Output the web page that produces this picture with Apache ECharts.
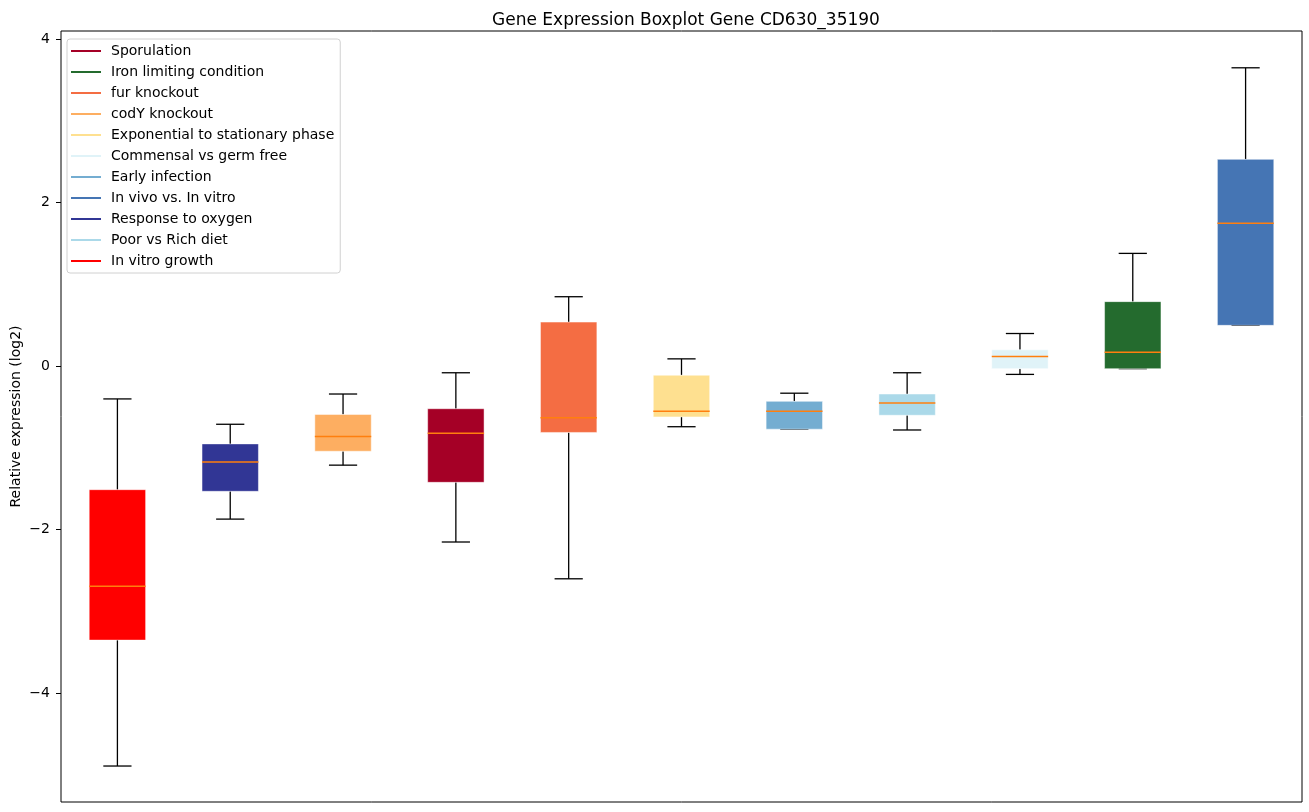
<!DOCTYPE html>
<html>
<head>
<meta charset="utf-8">
<script src="https://cdn.jsdelivr.net/npm/echarts@6/dist/echarts.min.js"></script>
<style>html,body{margin:0;padding:0;background:#fff}#c{width:1309px;height:812px}</style>
</head>
<body>
<div id="c"></div>
<script>
const categories = ['In vitro growth','Response to oxygen','codY knockout','Sporulation','fur knockout','Exponential to stationary phase','Early infection','Poor vs Rich diet','Commensal vs germ free','Iron limiting condition','In vivo vs. In vitro'];
const whiskerLow  = [-4.89,-1.87,-1.21,-2.15,-2.60,-0.74,-0.77,-0.78,-0.10,-0.03,0.50];
const q1          = [-3.35,-1.53,-1.04,-1.42,-0.81,-0.62,-0.77,-0.60,-0.03,-0.03,0.50];
const median      = [-2.69,-1.17,-0.86,-0.82,-0.63,-0.55,-0.55,-0.45,0.12,0.17,1.75];
const q3          = [-1.51,-0.95,-0.59,-0.52,0.54,-0.11,-0.43,-0.34,0.20,0.79,2.53];
const whiskerHigh = [-0.40,-0.71,-0.34,-0.08,0.85,0.09,-0.33,-0.08,0.40,1.38,3.65];
const legendOrder = ['Sporulation','Iron limiting condition','fur knockout','codY knockout','Exponential to stationary phase','Commensal vs germ free','Early infection','In vivo vs. In vitro','Response to oxygen','Poor vs Rich diet','In vitro growth'];
const colors = {
  'Sporulation':'#a50026','Iron limiting condition':'#246b2e','fur knockout':'#f46d43','codY knockout':'#fdae61',
  'Exponential to stationary phase':'#fee090','Commensal vs germ free':'#e0f3f8','Early infection':'#74add1',
  'In vivo vs. In vitro':'#4575b4','Response to oxygen':'#313695','Poor vs Rich diet':'#abd9e9','In vitro growth':'#ff0000'
};
const yTicks = [-4,-2,0,2,4];

function renderBox(params, api){
  const x = api.value(0);
  const lo = api.coord([x, api.value(1)]);
  const b1 = api.coord([x, api.value(2)]);
  const md = api.coord([x, api.value(3)]);
  const b3 = api.coord([x, api.value(4)]);
  const hi = api.coord([x, api.value(5)]);
  const band = api.size([1,0])[0];
  const bw = band*0.5, cw = band*0.25;
  const cx = lo[0];
  const blk = {stroke:'#000', lineWidth:1.3};
  return {type:'group', children:[
    {type:'line', shape:{x1:cx,y1:lo[1],x2:cx,y2:b1[1]}, style:blk},
    {type:'line', shape:{x1:cx,y1:b3[1],x2:cx,y2:hi[1]}, style:blk},
    {type:'line', shape:{x1:cx-cw/2,y1:lo[1],x2:cx+cw/2,y2:lo[1]}, style:blk},
    {type:'line', shape:{x1:cx-cw/2,y1:hi[1],x2:cx+cw/2,y2:hi[1]}, style:blk},
    {type:'rect', shape:{x:cx-bw/2,y:b3[1],width:bw,height:Math.max(b1[1]-b3[1],0.5)}, style:{fill:api.visual('color'), stroke:'rgba(255,255,255,0.6)', lineWidth:0.8}},
    {type:'line', shape:{x1:cx-bw/2,y1:md[1],x2:cx+bw/2,y2:md[1]}, style:{stroke:'#ff7f0e', lineWidth:1.5}}
  ]};
}

const series = legendOrder.map(name => {
  const i = categories.indexOf(name);
  return {
    name: name, type:'custom', renderItem: renderBox,
    itemStyle:{color: colors[name]},
    encode:{x:0, y:[1,2,3,4,5]},
    data:[[i, whiskerLow[i], q1[i], median[i], q3[i], whiskerHigh[i]]]
  };
});

const chart = echarts.init(document.getElementById('c'));
chart.setOption({
  animation:false,
  title:{text:'Gene Expression Boxplot Gene CD630_35190', left:681, textAlign:'center', top:7,
    textStyle:{fontFamily:'DejaVu Sans', fontSize:17, fontWeight:'normal', color:'#000'}},
  grid:{left:61, right:7, top:31, bottom:10, outerBoundsMode:'none', containLabel:false, show:true, borderColor:'#000', borderWidth:1, backgroundColor:'transparent'},
  legend:{
    data: legendOrder, orient:'vertical', left:67, top:39, icon:'rect', itemWidth:30, itemHeight:2, itemGap:7,
    padding:[5,6,5,4], borderColor:'#d0d0d0', borderWidth:1, borderRadius:3, backgroundColor:'rgba(255,255,255,0.8)',
    textStyle:{fontFamily:'DejaVu Sans', fontSize:14, color:'#000', lineHeight:14, padding:[0,0,0,5]}
  },
  xAxis:{type:'category', data:categories, axisLine:{show:false}, axisTick:{show:false}, axisLabel:{show:false}, splitLine:{show:false}},
  yAxis:{type:'value', min:-5.33, max:4.10,
    name:'Relative expression (log2)', nameLocation:'middle', nameRotate:90, nameGap:38, nameMoveOverlap:false,
    nameTextStyle:{fontFamily:'DejaVu Sans', fontSize:14, color:'#000'},
    axisLine:{show:false}, splitLine:{show:false},
    axisTick:{show:true, length:5, lineStyle:{color:'#000'}, customValues:yTicks},
    axisLabel:{fontFamily:'DejaVu Sans', fontSize:14, color:'#000', margin:11, customValues:yTicks,
      formatter: v => String(v).replace('-', '\u2212')}
  },
  series: series
});
</script>
</body>
</html>
